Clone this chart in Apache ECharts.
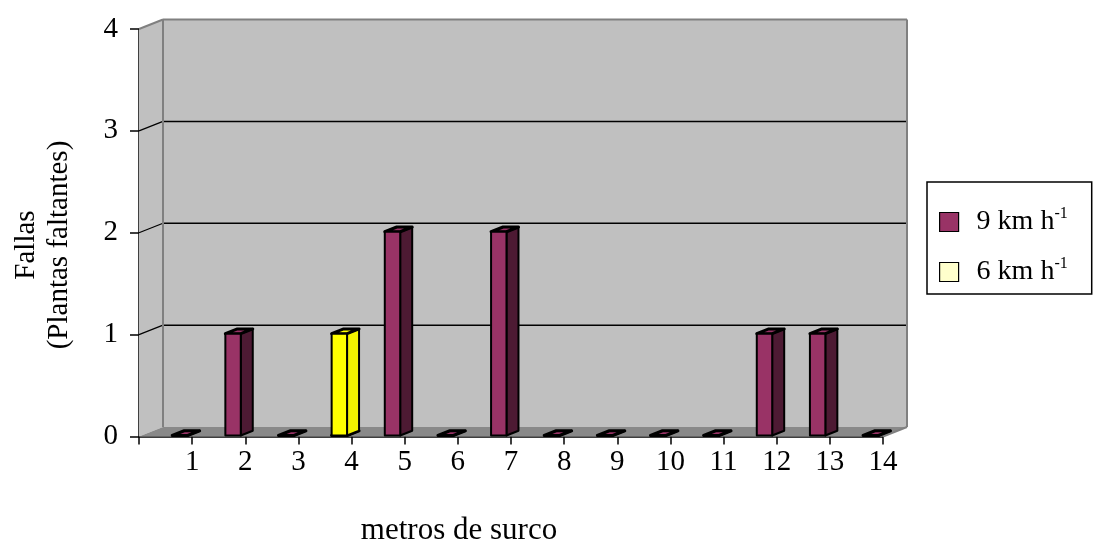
<!DOCTYPE html>
<html>
<head>
<meta charset="utf-8">
<script src="https://cdn.jsdelivr.net/npm/echarts@6/dist/echarts.min.js"></script>
<style>
  html, body { margin: 0; padding: 0; background: #fff; }
  #chart { width: 1099px; height: 543px; }
</style>
</head>
<body>
<div id="chart"></div>
<script>
// Metros de surco (categorías) y fallas por velocidad de siembra
const categories = ['1', '2', '3', '4', '5', '6', '7', '8', '9', '10', '11', '12', '13', '14'];
const speed9 = [0, 1, 0, 0, 2, 0, 2, 0, 0, 0, 0, 1, 1, 0];
const speed6 = [null, null, null, 1, null, null, null, null, null, null, null, null, null, null];
const yTicks = [0, 1, 2, 3, 4];
const seriesNames = ['9 km h-1', '6 km h-1'];

const FONT = "'Times New Roman', 'Liberation Serif', serif";

// oblique depth of the chart box (walls and floor)
const DX = 24, DY = -9.5;
// bar placement inside a category (fractions of category width) and bar depth
const BAR_L = 0.125, BAR_R = 0.415, BAR_DEPTH = 0.5;

const shift = (p, f) => [p[0] + DX * f, p[1] + DY * f];

function renderBackdrop(params, api) {
  const n = categories.length;
  const yMax = yTicks[yTicks.length - 1];
  const fl = api.coord([0, 0]);
  const fr = api.coord([n, 0]);
  const tl = api.coord([0, yMax]);
  const tr = api.coord([n, yMax]);
  const kids = [];
  // left side wall
  kids.push({ type: 'polygon', shape: { points: [fl, tl, shift(tl, 1), shift(fl, 1)] },
    style: { fill: '#c0c0c0' } });
  // back wall
  kids.push({ type: 'polygon', shape: { points: [shift(tl, 1), shift(tr, 1), shift(fr, 1), shift(fl, 1)] },
    style: { fill: '#c0c0c0' } });
  // floor
  kids.push({ type: 'polygon', shape: { points: [fl, fr, shift(fr, 1), shift(fl, 1)] },
    style: { fill: '#898989' } });
  // gridlines on back wall and side wall
  yTicks.forEach(v => {
    if (v <= 0 || v >= yMax) return;
    const a = api.coord([0, v]);
    const b = api.coord([n, v]);
    kids.push({ type: 'line', shape: { x1: shift(a, 1)[0], y1: shift(a, 1)[1], x2: shift(b, 1)[0], y2: shift(b, 1)[1] },
      style: { stroke: '#000', lineWidth: 1.5 } });
    kids.push({ type: 'line', shape: { x1: a[0], y1: a[1], x2: shift(a, 1)[0], y2: shift(a, 1)[1] },
      style: { stroke: '#000', lineWidth: 1.2 } });
  });
  // box edges
  const edge = (p, q) => kids.push({ type: 'line', shape: { x1: p[0], y1: p[1], x2: q[0], y2: q[1] },
    style: { stroke: '#808080', lineWidth: 2 } });
  edge(tl, shift(tl, 1));
  edge(shift(tl, 1), shift(tr, 1));
  edge(shift(tr, 1), shift(fr, 1));
  edge(shift(tl, 1), shift(fl, 1));
  edge(fr, shift(fr, 1));
  return { type: 'group', children: kids };
}

function makeBarRenderer(front, side, top, baseArr) {
  return function (params, api) {
    const i = api.value(0);
    const v = api.value(1);
    const base = baseArr ? (baseArr[i] || 0) : 0;
    const w = api.size([1, 0])[0];
    const c0 = api.coord([i + 0.5, base]);
    const c1 = api.coord([i + 0.5, base + v]);
    const xl = c0[0] + BAR_L * w, xr = c0[0] + BAR_R * w;
    const yb = c0[1] - 1, yt = c1[1] - 1;
    const bl = [xl, yb], br = [xr, yb], tl = [xl, yt], tr = [xr, yt];
    const stroke = { stroke: '#000', lineWidth: 2, lineJoin: 'round' };
    return {
      type: 'group',
      children: [
        { type: 'polygon', shape: { points: [br, tr, shift(tr, BAR_DEPTH), shift(br, BAR_DEPTH)] },
          style: Object.assign({ fill: side }, stroke) },
        { type: 'polygon', shape: { points: [tl, tr, shift(tr, BAR_DEPTH), shift(tl, BAR_DEPTH)] },
          style: { fill: top, stroke: '#000', lineWidth: 3, lineJoin: 'round' } },
        { type: 'rect', shape: { x: xl, y: yt, width: xr - xl, height: yb - yt },
          style: Object.assign({ fill: front }, stroke) }
      ]
    };
  };
}

const toData = arr => arr.map((v, i) => [i, v]).filter(d => d[1] !== null);

const chart = echarts.init(document.getElementById('chart'), null, { renderer: 'canvas' });

chart.setOption({
  backgroundColor: '#ffffff',
  animation: false,
  textStyle: { fontFamily: FONT, color: '#000' },
  grid: { left: 139, right: 216, top: 29, bottom: 106.5, containLabel: false },
  xAxis: {
    type: 'value',
    min: 0,
    max: categories.length,
    interval: 1,
    offset: 2,
    axisLine: { show: true, lineStyle: { color: '#000', width: 1.5 } },
    axisTick: { show: true, length: 8, lineStyle: { color: '#000', width: 1.5 } },
    splitLine: { show: false },
    axisLabel: {
      margin: 9,
      fontFamily: FONT, fontSize: 29, color: '#000',
      showMinLabel: true, showMaxLabel: true,
      formatter: v => (v >= 1 ? categories[v - 1] : '')
    }
  },
  yAxis: {
    type: 'value',
    min: 0,
    max: yTicks[yTicks.length - 1],
    interval: 1,
    axisLine: { show: true, lineStyle: { color: '#000', width: 1.5 } },
    axisTick: { show: true, length: 9, lineStyle: { color: '#000', width: 1.5 } },
    splitLine: { show: false },
    axisLabel: { margin: 21, fontFamily: FONT, fontSize: 29, color: '#000' }
  },
  legend: {
    orient: 'vertical',
    left: 927,
    top: 182,
    padding: [24, 24, 8, 12],
    itemWidth: 19,
    itemHeight: 19,
    itemGap: 20,
    icon: 'rect',
    backgroundColor: '#ffffff',
    borderColor: '#000',
    borderWidth: 1.5,
    borderRadius: 0,
    selectedMode: false,
    data: [
      { name: seriesNames[0], itemStyle: { color: '#993366', borderColor: '#000', borderWidth: 1.2 } },
      { name: seriesNames[1], itemStyle: { color: '#ffffcc', borderColor: '#000', borderWidth: 1.2 } }
    ],
    formatter: name => {
      const parts = name.split('-');
      return '{t|' + parts[0] + '}{s|-' + parts[1] + '}';
    },
    textStyle: {
      padding: [0, 0, 0, 13],
      rich: {
        t: { fontFamily: FONT, fontSize: 28, color: '#000', lineHeight: 32 },
        s: { fontFamily: FONT, fontSize: 16, color: '#000', verticalAlign: 'top', lineHeight: 32, padding: [0, 0, 12, 0] }
      }
    }
  },
  graphic: [
    {
      type: 'text',
      x: 43, y: 245,
      rotation: Math.PI / 2,
      style: {
        text: 'Fallas\n(Plantas faltantes)',
        align: 'center', verticalAlign: 'middle',
        fontFamily: FONT, fontSize: 29, lineHeight: 33, fill: '#000'
      }
    },
    {
      type: 'text',
      x: 459, y: 531,
      style: {
        text: 'metros de surco',
        align: 'center', verticalAlign: 'middle',
        fontFamily: FONT, fontSize: 31, fill: '#000'
      }
    }
  ],
  series: [
    {
      name: 'backdrop',
      type: 'custom',
      silent: true,
      z: 1,
      renderItem: renderBackdrop,
      data: [[0, 0]]
    },
    {
      name: seriesNames[0],
      type: 'custom',
      z: 3,
      itemStyle: { color: '#993366' },
      renderItem: makeBarRenderer('#993366', '#4d1a33', '#993366', null),
      data: toData(speed9)
    },
    {
      name: seriesNames[1],
      type: 'custom',
      z: 4,
      itemStyle: { color: '#ffffcc' },
      renderItem: makeBarRenderer('#ffff00', '#f2f200', '#ffff00', speed9),
      data: toData(speed6)
    }
  ]
});
</script>
</body>
</html>
